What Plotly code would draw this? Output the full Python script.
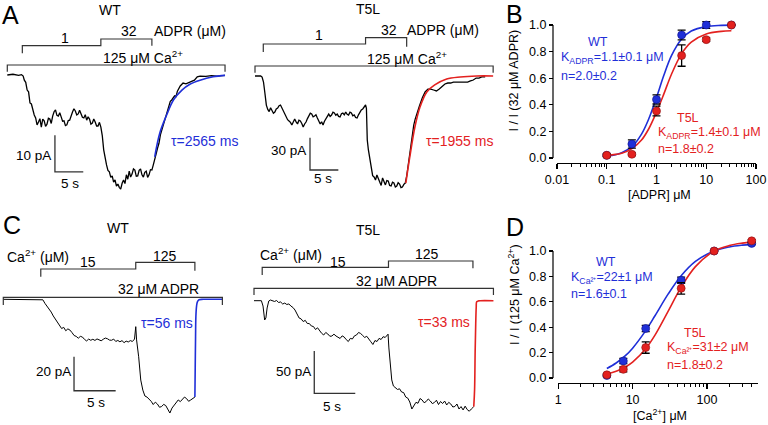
import plotly.graph_objects as go

W, H = 768, 425
FONT = "Liberation Sans, Arial, sans-serif"
BLUE = "#1f2fd8"
RED = "#e3211f"
GRAY = "#333333"

def fx(p):
    return p / W

def fy(p):
    return 1 - p / H

# ------------------------------------------------------------------ data
# Panel A, WT current trace (time s, current pA)
a_wt_trace = [(0, 0), (1, 0.2), (2, -0.1), (2.5, 0.1), (2.8, -0.3), (3.0, -1.4), (3.25, -2.0), (3.5, -4.1),
              (3.75, -4.6), (4.0, -7.6), (4.25, -7.9), (4.5, -9.5), (4.75, -10.9), (5.0, -11.7), (5.25, -13.6),
              (5.5, -12.8), (5.75, -11.9), (6.0, -14.2), (6.25, -12.0), (6.5, -12.5), (6.75, -14.0), (7.0, -13.4),
              (7.25, -11.8), (7.5, -12.0), (7.75, -13.2), (8.0, -11.2), (8.25, -10.0), (8.5, -9.5), (8.75, -11.0),
              (9.0, -11.2), (9.25, -10.3), (9.5, -11.4), (9.75, -12.6), (10.0, -12.5), (10.25, -13.8), (10.5, -13.6),
              (10.75, -12.4), (11.0, -12.3), (11.25, -11.0), (11.5, -10.1), (11.75, -9.2), (12.0, -9.8),
              (12.25, -10.9), (12.5, -10.6), (12.75, -9.6), (13.0, -10.4), (13.25, -11.5), (13.5, -11.7),
              (13.75, -10.8), (14.0, -12.3), (14.25, -11.4), (14.5, -12.0), (14.75, -13.4), (15.0, -13.1),
              (15.25, -12.0), (15.5, -12.8), (15.75, -13.9), (16.0, -13.9), (16.25, -12.9), (16.5, -14.2),
              (16.75, -16.5), (17.0, -20.4), (17.25, -23.0), (17.5, -24.5), (17.75, -26.0), (18.0, -26.4),
              (18.25, -27.9), (18.5, -27.5), (18.75, -29.2), (19.0, -28.6), (19.25, -30.3), (19.5, -29.7),
              (19.75, -30.6), (20.0, -31.1), (20.25, -29.5), (20.5, -28.6), (20.75, -29.6), (21.0, -27.2),
              (21.25, -28.4), (21.5, -26.2), (21.75, -27.8), (22.0, -27.0), (22.25, -25.6), (22.5, -25.9),
              (22.75, -27.6), (23.0, -27.5), (23.25, -26.0), (23.5, -25.6), (23.75, -27.2), (24.0, -27.8),
              (24.25, -26.5), (24.5, -26.2), (24.75, -27.9), (25.0, -27.2), (25.25, -25.8), (25.5, -25.9),
              (25.75, -24.5), (26.0, -22.6), (26.25, -21.5), (26.5, -19.9), (26.75, -18.6), (27.0, -16.3),
              (27.25, -15.0), (27.5, -13.1), (27.75, -12.0), (28.0, -10.4), (28.25, -9.7), (28.5, -8.4),
              (28.75, -7.2), (29.0, -6.8), (29.5, -5.7), (29.75, -5.9), (30.0, -4.4), (30.5, -3.0), (31.0, -2.2),
              (31.5, -2.4), (32.0, -2.1), (32.5, -1.9), (33.0, -1.4), (33.5, -0.5), (34.0, -0.3), (35.0, -0.4),
              (36.0, -0.2), (37.0, -0.3), (38.4, -0.1)]
a_wt_fit_t = [26.0, 26.9, 28.1, 29.3, 30.8, 32.2, 34.0, 36.3, 38.4]
a_wt_fit_i = [-22.3, -15.8, -10.9, -6.8, -4.1, -2.5, -1.4, -0.5, -0.1]
a_wt_ca = [0.0, 38.4]               # 125 uM Ca2+ on / off
a_wt_adpr = [2.65, 16.5, 25.5]      # 1 uM start, switch to 32 uM, end

# Panel A, T5L current trace
a_t5l_trace = [(0, 0), (1.0, 0), (1.25, -1.0), (1.5, -5.6), (1.75, -16), (2.0, -27), (2.25, -31), (2.5, -33),
               (2.75, -29.5), (3.0, -31.5), (3.25, -34.5), (3.5, -33.4), (3.75, -30.5), (4.0, -29.7),
               (4.25, -27.5), (4.5, -26.9), (4.75, -29.5), (5.0, -31.5), (5.25, -35.5), (5.5, -38), (5.75, -40.5),
               (6.0, -41.7), (6.25, -43.0), (6.5, -45.5), (6.75, -42.0), (7.0, -39.9), (7.25, -42.5), (7.5, -44.5),
               (7.75, -41.0), (8.0, -41.7), (8.25, -44.0), (8.5, -47.3), (8.75, -44.5), (9.0, -42.7), (9.25, -39.5),
               (9.5, -37.1), (9.75, -34.5), (10.0, -35.3), (10.25, -37.8), (10.5, -37.1), (10.75, -36.0),
               (11.0, -39.0), (11.25, -42.0), (11.5, -44.5), (11.75, -42.5), (12.0, -45.5), (12.25, -42.0),
               (12.5, -39.9), (12.75, -37.0), (13.0, -35.3), (13.25, -37.5), (13.5, -36.2), (13.75, -33.5),
               (14.0, -34.3), (14.25, -36.5), (14.5, -35.3), (14.75, -37.5), (15.0, -38.0), (15.25, -35.0),
               (15.5, -34.3), (15.75, -36.0), (16.0, -33.4), (16.25, -35.5), (16.5, -36.2), (16.75, -33.5),
               (17.0, -34.3), (17.25, -37.0), (17.5, -36.2), (17.75, -38.5), (18.0, -39.0), (18.25, -36.0),
               (18.5, -33.4), (18.75, -31.5), (19.0, -30.6), (19.25, -28.5), (19.5, -26.9), (19.65, -30),
               (19.8, -59.4), (20.0, -68.6), (20.25, -78), (20.5, -85.3), (20.75, -92.5), (21.0, -93.7),
               (21.25, -96.5), (21.5, -91.8), (21.75, -95.5), (22.0, -98.3), (22.25, -101.5), (22.5, -94.6),
               (22.75, -99.0), (23.0, -101), (23.25, -97.0), (23.5, -97.4), (23.75, -101.5), (24.0, -102),
               (24.25, -98.5), (24.5, -99.3), (24.75, -103.0), (25.0, -102), (25.25, -99.0), (25.5, -100.2),
               (25.75, -103.5), (26.0, -103), (26.25, -100.5), (26.5, -99.3), (26.75, -93), (27.0, -82.6),
               (27.25, -73), (27.5, -64), (27.75, -54), (28.0, -45.5), (28.25, -40), (28.5, -35.3), (28.75, -31),
               (29.0, -27.8), (29.5, -20.4), (30.0, -14.8), (30.5, -12.1), (31.0, -12.1), (31.5, -13.0),
               (32.0, -13.9), (32.5, -12.1), (33.0, -9.3), (33.5, -7.4), (34.0, -6.5), (34.5, -6.5), (35.0, -5.6),
               (36.0, -5.6), (37.0, -5.6), (37.5, -5.6), (38.0, -4.6), (38.5, -3.7), (39.0, -1.9), (39.5, -1.9),
               (40.0, -0.9), (40.6, -0.9)]
a_t5l_fit_t = [26.6, 27.3, 28.2, 29.1, 30.3, 31.7, 33.8, 36.2, 39.1, 42.0]
a_t5l_fit_i = [-99.3, -75.1, -47.3, -28.8, -14.8, -8.3, -2.8, -0.9, 0.0, 0.0]
a_t5l_ca = [0.0, 42.0]
a_t5l_adpr = [1.46, 19.5, 26.75]

# Panel C, WT current trace
c_wt_trace = [(0, 0), (4.5, 0), (4.75, -0.3), (5.0, -2.4), (5.25, -4.0), (5.5, -6), (5.75, -7.5), (6.0, -9.8),
              (6.25, -11.8), (6.5, -13.5), (6.75, -15.6), (7.0, -17.2), (7.25, -16.5), (7.5, -18.5), (7.75, -17.4),
              (8.0, -18.1), (8.25, -19.6), (8.5, -21.3), (8.75, -21.8), (9.0, -22.9), (9.25, -21.8), (9.5, -22.2),
              (9.75, -23.6), (10.0, -24.5), (10.25, -23.4), (10.5, -24.1), (10.75, -23.5), (11.0, -24.2),
              (11.25, -23.3), (11.5, -23.7), (11.75, -24.4), (12.0, -23.5), (12.25, -22.8), (12.5, -23.2),
              (12.75, -24.0), (13.0, -24.1), (13.25, -23.4), (13.5, -24.8), (13.75, -24.2), (14.0, -25.0),
              (14.25, -24.3), (14.5, -25.5), (14.75, -24.6), (15.0, -25.1), (15.25, -24.3), (15.5, -24.8),
              (15.75, -23.4), (15.9, -16.1), (16.0, -23.9), (16.25, -33.8), (16.5, -47.5), (16.75, -53.4),
              (17.0, -56.9), (17.25, -57.5), (17.5, -58.6), (17.75, -60.0), (18.0, -61.9), (18.25, -60.5),
              (18.5, -61.6), (18.75, -63.5), (19.0, -63.1), (19.25, -61.8), (19.5, -62.5), (19.75, -64.5),
              (20.0, -66.9), (20.25, -64.0), (20.5, -62.2), (20.75, -60.5), (21.0, -59.2), (21.25, -60.2),
              (21.5, -58.9), (21.75, -57.5), (22.0, -58.4), (22.25, -60.0), (22.5, -59.2), (22.75, -58.3),
              (23.0, -57.5)]
c_wt_fit_t = [23.0, 23.04, 23.08, 23.12, 23.2, 23.3, 23.5, 24.0, 26.3]
c_wt_fit_i = [-57.5, -40.0, -22.0, -10.0, -4.0, -1.5, -0.3, 0.0, 0.0]
c_wt_adpr = [0.0, 26.3]            # 32 uM ADPR on / off
c_wt_ca = [4.5, 15.9, 23.0]        # 15 uM Ca start, switch to 125 uM, end

# Panel C, T5L current trace
c_t5l_trace = [(0, 0), (0.9, 0), (1.1, -6.3), (1.3, -22.8), (1.45, -20.4), (1.6, -8.6), (1.8, -0.4), (2.0, 0.8),
               (2.5, -0.9), (2.75, 0.2), (3.0, -2.1), (3.25, -1.5), (3.5, -3.9), (3.75, -2.8), (4.0, -4.5),
               (4.25, -3.8), (4.5, -6.3), (4.75, -8.0), (5.0, -11), (5.25, -15.5), (5.5, -20.4), (5.75, -21.5),
               (6.0, -24.6), (6.25, -23.2), (6.5, -26.9), (6.75, -27.0), (7.0, -29.9), (7.25, -30.5), (7.5, -34.0),
               (7.75, -32.0), (8.0, -35.8), (8.25, -38.5), (8.5, -40.5), (8.75, -37.5), (9.0, -39.3), (9.25, -42.0),
               (9.5, -41.7), (9.75, -39.5), (10.0, -41.7), (10.25, -43.5), (10.5, -44.6), (10.75, -41.5),
               (11.0, -42.9), (11.25, -46.0), (11.5, -48.2), (11.75, -44.5), (12.0, -45.2), (12.25, -41.5),
               (12.5, -40.5), (12.75, -37.5), (13.0, -38.7), (13.25, -41.0), (13.5, -43.4), (13.75, -42.0),
               (14.0, -45.8), (14.25, -48.5), (14.5, -51.7), (14.75, -47.0), (15.0, -48.2), (15.25, -44.5),
               (15.5, -45.8), (15.75, -42.5), (16.0, -43.4), (16.2, -40.5), (16.35, -39.5), (16.45, -55.8),
               (16.6, -75.9), (16.8, -93.6), (17.0, -100.7), (17.25, -102.5), (17.5, -104.8), (17.75, -104.0),
               (18.0, -107.8), (18.25, -108.5), (18.5, -113.7), (18.75, -115.0), (19.0, -119.6), (19.25, -127.9),
               (19.5, -124.3), (19.75, -120.0), (20.0, -121.1), (20.25, -115.5), (20.5, -117.2), (20.75, -120.5),
               (21.0, -119.0), (21.25, -116.0), (21.5, -118.4), (21.75, -121.5), (22.0, -120.2), (22.25, -117.5),
               (22.5, -122.6), (22.75, -119.0), (23.0, -121.4), (23.25, -118.5), (23.5, -123.1), (23.75, -120.0),
               (24.0, -122.0), (24.25, -125.5), (24.5, -124.9), (24.75, -122.0), (25.0, -127.9), (25.25, -125.0),
               (25.5, -129.0), (25.75, -124.5), (26.0, -128.5), (26.25, -130.5), (26.5, -127.9), (26.8, -125.1)]
c_t5l_fit_t = [26.8, 26.9, 26.97, 27.04, 27.1, 27.16, 27.4, 27.6, 29.2]
c_t5l_fit_i = [-125.1, -105.0, -60.0, -26.7, -8.0, -1.2, -0.2, 0.0, 0.0]
c_t5l_adpr = [0.0, 29.2]
c_t5l_ca = [1.0, 16.4, 26.7]

# Panel B, ADPR dose response
b_conc = [0.1, 0.32, 1.0, 3.2, 10.0, 32.0]
b_wt = [0.02, 0.105, 0.44, 0.925, 1.0, 1.0]
b_wt_err = [0.01, 0.031, 0.034, 0.037, 0.025, 0.0]
b_t5l = [0.02, 0.028, 0.353, 0.77, 0.89, 1.0]
b_t5l_err = [0.01, 0.01, 0.037, 0.08, 0.013, 0.0]
b_fit_x = [0.1, 0.15, 0.2, 0.32, 0.5, 0.7, 1.0, 1.4, 2.0, 3.2, 5.0, 10.0, 20.0, 32.0]
b_wt_fit = [0.015, 0.025, 0.04, 0.085, 0.18, 0.295, 0.455, 0.62, 0.77, 0.895, 0.955, 0.988, 0.997, 0.999]
b_t5l_fit = [0.02, 0.027, 0.035, 0.07, 0.135, 0.22, 0.345, 0.48, 0.63, 0.785, 0.872, 0.933, 0.952, 0.957]

# Panel D, Ca2+ dose response
d_conc = [4.5, 7.5, 15.0, 45.0, 125.0, 400.0]
d_wt = [0.02, 0.134, 0.39, 0.77, 1.0, 1.06]
d_wt_err = [0.01, 0.02, 0.025, 0.025, 0.0, 0.01]
d_t5l = [0.025, 0.068, 0.24, 0.706, 1.0, 1.08]
d_t5l_err = [0.01, 0.02, 0.045, 0.045, 0.0, 0.01]
d_fit_x = [4.5, 6.0, 8.0, 10.0, 15.0, 20.0, 30.0, 45.0, 70.0, 125.0, 200.0, 300.0, 400.0]
d_wt_fit = [0.075, 0.118, 0.176, 0.235, 0.373, 0.49, 0.66, 0.805, 0.918, 1.0, 1.032, 1.046, 1.052]
d_t5l_fit = [0.032, 0.053, 0.087, 0.125, 0.23, 0.337, 0.524, 0.715, 0.877, 1.0, 1.043, 1.062, 1.07]

b_ticks = [0.01, 0.1, 1, 10, 100]
b_ticktext = ["0.01", "0.1", "1", "10", "100"]
b_minor = [m * d for d in (0.01, 0.1, 1, 10) for m in range(2, 10)]
d_ticks = [1, 10, 100]
d_ticktext = ["1", "10", "100"]
d_minor = [m * d for d in (1, 10) for m in range(2, 10)] + [200, 300, 400]
y_ticks = [0, 0.2, 0.4, 0.6, 0.8, 1.0]

# ------------------------------------------------------------------ figure
fig = go.Figure()


def axname(prefix, n):
    return prefix if n == 1 else "%s%d" % (prefix, n)


def trace_axes(n, left, right, top, bottom, x0, sx, y0, sy):
    xa = dict(domain=[left / W, right / W], range=[(left - x0) / sx, (right - x0) / sx],
              visible=False, fixedrange=True, anchor=axname("y", n), automargin=False)
    ya = dict(domain=[1 - bottom / H, 1 - top / H], range=[-(bottom - y0) / sy, -(top - y0) / sy],
              visible=False, fixedrange=True, anchor=axname("x", n), automargin=False)
    key = "" if n == 1 else str(n)
    fig.update_layout(**{"xaxis" + key: xa, "yaxis" + key: ya})


trace_axes(1, 0, 245, 0, 210, 7.3, 5.67, 75.0, 3.67)
trace_axes(2, 248, 500, 0, 210, 255.0, 5.67, 76.0, 1.078)
trace_axes(4, 0, 245, 215, 425, 3.3, 8.33, 299.3, 1.7)
trace_axes(5, 248, 500, 215, 425, 254.0, 8.2, 300.7, 0.847)


def add_trace_pair(n, data, fit_t, fit_i, color, width):
    xr, yr = axname("x", n), axname("y", n)
    t, i = zip(*data)
    fig.add_trace(go.Scatter(x=list(t), y=list(i), mode="lines", line=dict(color="black", width=width),
                             xaxis=xr, yaxis=yr, hoverinfo="skip"))
    fig.add_trace(go.Scatter(x=fit_t, y=fit_i, mode="lines", line=dict(color=color, width=1.6, shape="spline"),
                             xaxis=xr, yaxis=yr, hoverinfo="skip"))


add_trace_pair(1, a_wt_trace, a_wt_fit_t, a_wt_fit_i, BLUE, 1.3)
add_trace_pair(2, a_t5l_trace, a_t5l_fit_t, a_t5l_fit_i, RED, 1.3)
add_trace_pair(4, c_wt_trace, c_wt_fit_t, c_wt_fit_i, BLUE, 1.0)
add_trace_pair(5, c_t5l_trace, c_t5l_fit_t, c_t5l_fit_i, RED, 1.0)

# dose-response axes (y range extends a little above 1 so points above 1 stay visible;
# the axis line itself is drawn from 0 to 1 as a shape)
axis_common = dict(linecolor="black", linewidth=1.2, ticks="outside", tickcolor="black",
                   tickwidth=1.2, showgrid=False, zeroline=False, fixedrange=True, automargin=False,
                   tickfont=dict(size=12.5, color="black", family=FONT))
B_Y0, B_PX = 158, 133.0
D_Y0, D_PX = 378, 127.0
YTOP = 1.12
fig.update_layout(
    xaxis3=dict(type="log", range=[-2, 2], domain=[557 / W, 756 / W], anchor="free", position=fy(163),
                tickvals=b_ticks, ticktext=b_ticktext, ticklen=5, showline=True,
                minor=dict(ticks="outside", ticklen=3, tickwidth=1, tickcolor="black", tickvals=b_minor),
                **axis_common),
    yaxis3=dict(range=[0, YTOP], domain=[fy(B_Y0), fy(B_Y0 - YTOP * B_PX)], anchor="free", position=fx(553),
                tickvals=y_ticks, tickformat=".1f", ticklen=4, showline=False, **axis_common),
    xaxis6=dict(type="log", range=[0, 2.687], domain=[558.3 / W, 758 / W], anchor="free", position=fy(383),
                tickvals=d_ticks, ticktext=d_ticktext, ticklen=5, showline=True,
                minor=dict(ticks="outside", ticklen=3, tickwidth=1, tickcolor="black", tickvals=d_minor),
                **axis_common),
    yaxis6=dict(range=[0, YTOP], domain=[fy(D_Y0), fy(D_Y0 - YTOP * D_PX)], anchor="free", position=fx(553),
                tickvals=y_ticks, tickformat=".1f", ticklen=4, showline=False, **axis_common),
)


def add_dose(xr, yr, conc, wt, wt_err, t5l, t5l_err, fit_x, wt_fit, t5l_fit):
    for fit, col in ((wt_fit, BLUE), (t5l_fit, RED)):
        fig.add_trace(go.Scatter(x=fit_x, y=fit, mode="lines", line=dict(color=col, width=1.6, shape="spline"),
                                 xaxis=xr, yaxis=yr, hoverinfo="skip", cliponaxis=False))
    for vals, err, col, edge in ((wt, wt_err, BLUE, "#10108a"), (t5l, t5l_err, RED, "#8a1010")):
        fig.add_trace(go.Scatter(x=conc, y=vals, mode="markers",
                                 marker=dict(symbol="circle", color=col, size=8, line=dict(color=edge, width=0.6)),
                                 error_y=dict(type="data", array=err, color="black", thickness=1.3, width=4),
                                 xaxis=xr, yaxis=yr, hoverinfo="skip", cliponaxis=False))


add_dose("x3", "y3", b_conc, b_wt, b_wt_err, b_t5l, b_t5l_err, b_fit_x, b_wt_fit, b_t5l_fit)
add_dose("x6", "y6", d_conc, d_wt, d_wt_err, d_t5l, d_t5l_err, d_fit_x, d_wt_fit, d_t5l_fit)

# ------------------------------------------------------------------ brackets & scale bars
shapes = []
LINE = dict(color=GRAY, width=1.2)


def path(points):
    return "M " + " L ".join("%g,%g" % p for p in points)


def outer_bracket(xr, times, line_px, tick_px):
    t0, t1 = times
    shapes.append(dict(type="path", xref=xr, yref="paper", line=LINE,
                       path=path([(t0, fy(tick_px)), (t0, fy(line_px)), (t1, fy(line_px)), (t1, fy(tick_px))])))


def step_bracket(xr, times, tick_px, low_px, high_px, end_px):
    ta, tb, tc = times
    shapes.append(dict(type="path", xref=xr, yref="paper", line=LINE,
                       path=path([(ta, fy(tick_px)), (ta, fy(low_px)), (tb, fy(low_px)), (tb, fy(high_px)),
                                  (tc, fy(high_px)), (tc, fy(end_px))])))


def scale_bar(xr, yr, t0, i0, dt, di):
    shapes.append(dict(type="path", xref=xr, yref=yr, line=dict(color=GRAY, width=1.3),
                       path=path([(t0, i0 + di), (t0, i0), (t0 + dt, i0)])))


outer_bracket("x", a_wt_ca, 65, 71.7)
step_bracket("x", a_wt_adpr, 53.3, 45.7, 39, 45.7)
outer_bracket("x2", a_t5l_ca, 66, 72.7)
step_bracket("x2", a_t5l_adpr, 52, 44, 37.7, 46.7)
outer_bracket("x4", c_wt_adpr, 297.3, 305)
step_bracket("x4", c_wt_ca, 276.7, 269, 262.3, 270.7)
outer_bracket("x5", c_t5l_adpr, 288.3, 295)
step_bracket("x5", c_t5l_ca, 275, 267.3, 261, 268.3)

scale_bar("x", "y", 8.4, -26.4, 5, 10)
scale_bar("x2", "y2", 9.7, -87.2, 5, 30)
scale_bar("x4", "y4", 8.49, -53.8, 5, 20)
scale_bar("x5", "y5", 7.35, -109.3, 5, 50)

# y axis lines of B and D, from 0 to 1
for yr in ("y3", "y6"):
    shapes.append(dict(type="line", xref="paper", yref=yr, x0=fx(553), x1=fx(553), y0=0, y1=1,
                       line=dict(color="black", width=1.2)))

# ------------------------------------------------------------------ text
anns = []


def ann(text, x, y, size=14, color="black", xanchor="center", yanchor="middle", angle=0):
    anns.append(dict(text=text, x=fx(x), y=fy(y), xref="paper", yref="paper", showarrow=False,
                     font=dict(size=size, color=color, family=FONT), xanchor=xanchor, yanchor=yanchor,
                     textangle=angle, borderpad=0))


MU = "\u03bc"
# panel letters
ann("A", 10, 15, size=25)
ann("B", 514, 14, size=25)
ann("C", 11.5, 225, size=25)
ann("D", 515, 227, size=25)

# panel A
ann("WT", 109.5, 10)
ann("1", 65, 38.5)
ann("32", 128.5, 30.5)
ann("ADPR (%sM)" % MU, 190, 30.5)
ann("125 %sM Ca<sup>2+</sup>" % MU, 143, 57)
ann("10 pA", 52, 155, size=13.5, xanchor="right")
ann("5 s", 70, 183, size=13.5)
ann("\u03c4=2565 ms", 170, 141, color=BLUE, xanchor="left")

ann("T5L", 368, 9.5)
ann("1", 318.5, 34.5)
ann("32", 388.5, 30)
ann("ADPR (%sM)" % MU, 442.5, 30)
ann("125 %sM Ca<sup>2+</sup>" % MU, 406.5, 58)
ann("30 pA", 306.7, 150, size=13.5, xanchor="right")
ann("5 s", 323, 178, size=13.5)
ann("\u03c4=1955 ms", 425, 141, color=RED, xanchor="left")

# panel C
ann("WT", 118.3, 228.3)
ann("Ca<sup>2+</sup> (%sM)" % MU, 6, 255.5, xanchor="left")
ann("15", 88.3, 261.7)
ann("125", 165, 256)
ann("32 %sM ADPR" % MU, 158.3, 289.3)
ann("20 pA", 71.7, 371.7, size=13.5, xanchor="right")
ann("5 s", 96, 402.7, size=13.5)
ann("\u03c4=56 ms", 140, 323.3, color=BLUE, xanchor="left")

ann("T5L", 368.3, 230)
ann("Ca<sup>2+</sup> (%sM)" % MU, 259.3, 254, xanchor="left")
ann("15", 338.3, 261.7)
ann("125", 426.7, 254.3)
ann("32 %sM ADPR" % MU, 396.7, 280.7)
ann("50 pA", 311.7, 371, size=13.5, xanchor="right")
ann("5 s", 331.7, 406.7, size=13.5)
ann("\u03c4=33 ms", 416.7, 321.7, color=RED, xanchor="left")

# panel B
ann("I / I (32 %sM ADPR)" % MU, 513.5, 81, size=12.5, angle=-90)
ann("[ADPR] %sM" % MU, 659, 195, size=12.5)
ann("WT", 598, 42, size=12.5, color=BLUE)
ann("K<sub>ADPR</sub>=1.1\u00b10.1 %sM" % MU, 560, 58, size=12.5, color=BLUE, xanchor="left")
ann("n=2.0\u00b10.2", 560, 76, size=12.5, color=BLUE, xanchor="left")
ann("T5L", 688, 118, size=12.5, color=RED)
ann("K<sub>ADPR</sub>=1.4\u00b10.1 %sM" % MU, 657, 133, size=12.5, color=RED, xanchor="left")
ann("n=1.8\u00b10.2", 657, 149, size=12.5, color=RED, xanchor="left")

# panel D
ann("I / I (125 %sM Ca<sup>2+</sup>)" % MU, 514, 295, size=12.5, angle=-90)
ann("[Ca<sup>2+</sup>] %sM" % MU, 660, 415, size=12.5)
ann("WT", 606, 262, size=12.5, color=BLUE)
ann("K<sub>Ca\u00b2\u207a</sub>=22\u00b11 %sM" % MU, 570, 278, size=12.5, color=BLUE, xanchor="left")
ann("n=1.6\u00b10.1", 570, 294, size=12.5, color=BLUE, xanchor="left")
ann("T5L", 695, 333, size=12.5, color=RED)
ann("K<sub>Ca\u00b2\u207a</sub>=31\u00b12 %sM" % MU, 666, 348, size=12.5, color=RED, xanchor="left")
ann("n=1.8\u00b10.2", 666, 365, size=12.5, color=RED, xanchor="left")

fig.update_layout(width=W, height=H, margin=dict(l=0, r=0, t=0, b=0, autoexpand=False), paper_bgcolor="white",
                  plot_bgcolor="rgba(0,0,0,0)", showlegend=False, shapes=shapes, annotations=anns,
                  font=dict(family=FONT, color="black"))

POST = ("var s='margin:0;padding:0;overflow:hidden;';"
        "document.documentElement.style.cssText=s;document.body.style.cssText=s;"
        "var d=document.getElementById('{plot_id}');"
        "d.style.position='absolute';d.style.left='0px';d.style.top='0px';")
fig.write_html("out.html", config={"displayModeBar": False, "staticPlot": True}, post_script=POST)
